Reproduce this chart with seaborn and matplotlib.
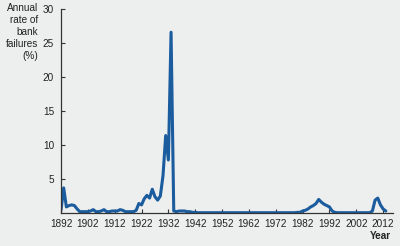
import matplotlib
matplotlib.use("Agg")
import matplotlib.pyplot as plt
import seaborn as sns
import pandas as pd

years = list(range(1892, 2014))
failure_rate = [
    0.4, 3.7, 0.9, 1.1, 1.2, 1.1, 0.6, 0.2, 0.2, 0.2,      # 1892-1901
    0.2, 0.3, 0.5, 0.2, 0.2, 0.3, 0.5, 0.2, 0.2, 0.3,      # 1902-1911
    0.3, 0.3, 0.5, 0.4, 0.2, 0.2, 0.2, 0.2, 0.4, 1.4,      # 1912-1921
    1.2, 2.1, 2.6, 2.2, 3.5, 2.4, 1.9, 2.5, 5.5, 11.4,     # 1922-1931
    7.8, 26.6, 0.3, 0.2, 0.3, 0.3, 0.3, 0.2, 0.2, 0.1,     # 1932-1941
    0.1, 0.05, 0.05, 0.05, 0.05, 0.05, 0.05, 0.05, 0.05, 0.05,  # 1942-1951
    0.05, 0.05, 0.05, 0.05, 0.05, 0.05, 0.05, 0.05, 0.05, 0.05,  # 1952-1961
    0.05, 0.05, 0.05, 0.05, 0.05, 0.05, 0.05, 0.05, 0.05, 0.05,  # 1962-1971
    0.05, 0.05, 0.05, 0.05, 0.05, 0.05, 0.05, 0.05,              # 1972-1979
    0.1, 0.1, 0.3, 0.4, 0.6, 0.9, 1.1, 1.4, 2.0, 1.6,      # 1980-1989
    1.3, 1.1, 0.9, 0.3, 0.1,                                # 1990-1994
    0.05, 0.05, 0.05, 0.05, 0.05, 0.05, 0.05, 0.05, 0.05, 0.05, 0.05, 0.05, 0.05,  # 1995-2007
    0.3, 1.9, 2.2, 1.2, 0.6, 0.3,                           # 2008-2013
]
x_ticks = list(range(1892, 2013, 10))
y_ticks = [5, 10, 15, 20, 25, 30]
y_label = "Annual\nrate of\nbank\nfailures\n(%)"
x_label = "Year"

df = pd.DataFrame({"year": years, "rate": failure_rate})

sns.set_style("ticks")
bg = "#edeeee"
plt.rcParams["font.family"] = ["Liberation Sans", "DejaVu Sans"]

fig = plt.figure(figsize=(4.0, 2.46), dpi=100, facecolor=bg)
ax = fig.add_axes([0.1525, 0.134, 0.8295, 0.829])
ax.set_facecolor(bg)

sns.lineplot(data=df, x="year", y="rate", ax=ax, color="#1b5c9e", linewidth=2.2)

ax.set_xlim(1892, 2015.6)
ax.set_ylim(0, 30)
ax.set_xticks(x_ticks)
ax.set_xticklabels([str(t) for t in x_ticks])
ax.set_yticks(y_ticks)
ax.set_yticklabels([str(t) for t in y_ticks])
ax.set_xlabel("")
ax.set_ylabel("")

for s in ["top", "right"]:
    ax.spines[s].set_visible(False)
for s in ["left", "bottom"]:
    ax.spines[s].set_color("#333333")
    ax.spines[s].set_linewidth(0.9)

ax.tick_params(axis="both", direction="in", length=3, width=0.8,
               colors="#333333", labelsize=7.2, labelcolor="#222222")
ax.tick_params(axis="x", pad=4)
ax.tick_params(axis="y", pad=5)

fig.text(0.095, 0.988, y_label, ha="right", va="top", fontsize=7.2,
         color="#222222", linespacing=1.25)
fig.text(0.978, 0.04, x_label, ha="right", va="center", fontsize=7.2,
         fontweight="bold", color="#222222")

fig.savefig("out.png", dpi=100, facecolor=bg)
